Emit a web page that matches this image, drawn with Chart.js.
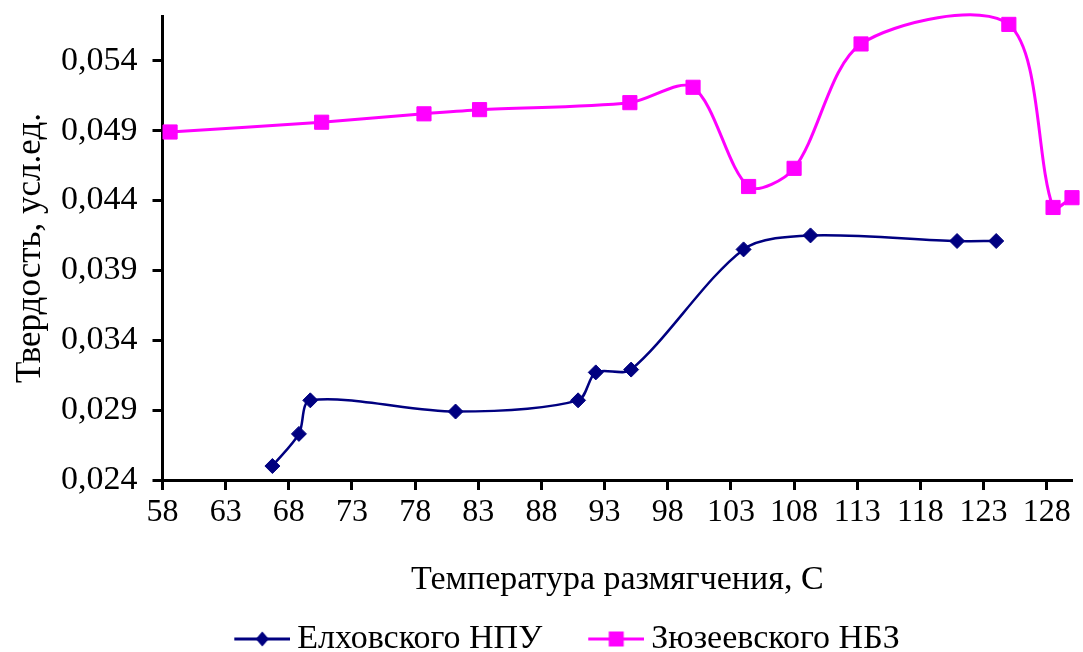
<!DOCTYPE html>
<html><head><meta charset="utf-8">
<script src="https://cdn.jsdelivr.net/npm/chart.js@4.4.1/dist/chart.umd.min.js"></script>
<style>html,body{margin:0;padding:0;background:#fff}#wrap{width:1083px;height:652px;position:relative}</style>
</head><body><div id="wrap"><canvas id="c"></canvas></div>
<script>
const seriesNames = ['Елховского НПУ', 'Зюзеевского НБЗ'];
const elkhX = [66.7, 68.8, 69.7, 81.2, 90.9, 92.3, 95.1, 104.0, 109.3, 120.9, 124.0];
const elkhY = [0.0250, 0.0273, 0.0297, 0.0289, 0.0297, 0.0317, 0.0319, 0.0405, 0.0415, 0.0411, 0.0411];
const zyuzX = [58.6, 70.6, 78.7, 83.1, 95.0, 100.0, 104.4, 108.0, 113.3, 125.0, 128.5, 130.0];
const zyuzY = [0.0489, 0.0496, 0.0502, 0.0505, 0.0510, 0.0521, 0.0450, 0.0463, 0.0552, 0.0566, 0.0435, 0.0442];
const xTicks = [58, 63, 68, 73, 78, 83, 88, 93, 98, 103, 108, 113, 118, 123, 128];
const yTicks = [0.024, 0.029, 0.034, 0.039, 0.044, 0.049, 0.054];
const xTitle = 'Температура размягчения, С';
const yTitle = 'Твердость, усл.ед.';

const FONT = "'Liberation Serif', 'Times New Roman', serif";
const BLUE = '#000080', PINK = '#FF00FF';

function legendIcon(color, style) {
  const c = document.createElement('canvas');
  c.width = 101; c.height = 20;
  const g = c.getContext('2d');
  g.strokeStyle = color; g.lineWidth = 3;
  g.beginPath(); g.moveTo(45, 10); g.lineTo(101, 10); g.stroke();
  g.fillStyle = color;
  const cx = 73, cy = 10;
  g.beginPath();
  if (style === 'diamond') {
    g.moveTo(cx, cy - 7.5); g.lineTo(cx + 6.5, cy); g.lineTo(cx, cy + 7.5); g.lineTo(cx - 6.5, cy); g.closePath();
  } else {
    g.rect(cx - 7.5, cy - 7.5, 15, 15);
  }
  g.fill();
  return c;
}

const shiftLegend = {
  id: 'shiftLegend',
  afterLayout(chart) {
    const lg = chart.legend;
    if (lg) { lg.top += 14; lg.bottom += 14; lg.left += 6; lg.right += 6; }
  }
};

const data = {
  datasets: [
    {
      label: seriesNames[0],
      data: elkhX.map((x, i) => ({x, y: elkhY[i]})),
      borderColor: BLUE, backgroundColor: BLUE,
      borderWidth: 2.5,
      pointStyle: 'rectRot', pointRadius: 7.5, pointBorderWidth: 1,
      pointBackgroundColor: BLUE, pointBorderColor: BLUE,
      tension: 0.3, fill: false, clip: false,
      legendIcon: legendIcon(BLUE, 'diamond')
    },
    {
      label: seriesNames[1],
      data: zyuzX.map((x, i) => ({x, y: zyuzY[i]})),
      borderColor: PINK, backgroundColor: PINK,
      borderWidth: 3,
      pointStyle: 'rect', pointRadius: 10, pointBorderWidth: 1,
      pointBackgroundColor: PINK, pointBorderColor: PINK,
      tension: 0.3, fill: false, clip: false,
      legendIcon: legendIcon(PINK, 'square')
    }
  ]
};

new Chart(document.getElementById('c'), {
  type: 'line',
  data,
  plugins: [shiftLegend],
  options: {
    responsive: true, maintainAspectRatio: false, animation: false,
    devicePixelRatio: 1,
    layout: {padding: {left: 10, right: 6, top: 16, bottom: 0}},
    elements: {line: {capBezierPoints: false}},
    plugins: {
      tooltip: {enabled: false},
      legend: {
        position: 'bottom',
        labels: {
          usePointStyle: true, pointStyleWidth: 81,
          font: {family: FONT, size: 34}, color: '#000', padding: 11,
          generateLabels: (chart) => chart.data.datasets.map((ds, i) => ({
            text: ds.label, pointStyle: ds.legendIcon, fillStyle: ds.borderColor,
            strokeStyle: ds.borderColor, lineWidth: 0, hidden: false, datasetIndex: i,
            fontColor: '#000'
          }))
        }
      }
    },
    scales: {
      x: {
        type: 'linear', min: 58, max: 130,
        afterBuildTicks: (s) => { s.ticks = xTicks.map(v => ({value: v})); },
        afterFit: (s) => { s.height = 117; s.paddingLeft = 0; s.paddingRight = 0; },
        ticks: {font: {family: FONT, size: 32}, color: '#000', padding: 3, maxRotation: 0, autoSkip: false},
        grid: {display: true, drawOnChartArea: false, drawTicks: true, tickLength: 10, tickWidth: 3, tickColor: '#000'},
        border: {display: true, width: 3, color: '#000'},
        title: {display: true, text: xTitle, font: {family: FONT, size: 34, lineHeight: 1.0}, color: '#000', padding: {top: 0, bottom: 0}}
      },
      y: {
        type: 'linear', min: 0.024, max: 0.0572,
        afterBuildTicks: (s) => { s.ticks = yTicks.map(v => ({value: v})); },
        afterFit: (s) => { s.width = 152.5; s.paddingTop = 0; s.paddingBottom = 0; },
        ticks: {font: {family: FONT, size: 34}, color: '#000', padding: 15,
          callback: (v) => Number(v).toFixed(3).replace('.', ',')},
        grid: {display: true, drawOnChartArea: false, drawTicks: true, tickLength: 10, tickWidth: 3, tickColor: '#000'},
        border: {display: true, width: 3, color: '#000'},
        title: {display: true, text: yTitle, font: {family: FONT, size: 35}, color: '#000', padding: {top: 0, bottom: 0}}
      }
    }
  }
});
</script>
</body></html>
